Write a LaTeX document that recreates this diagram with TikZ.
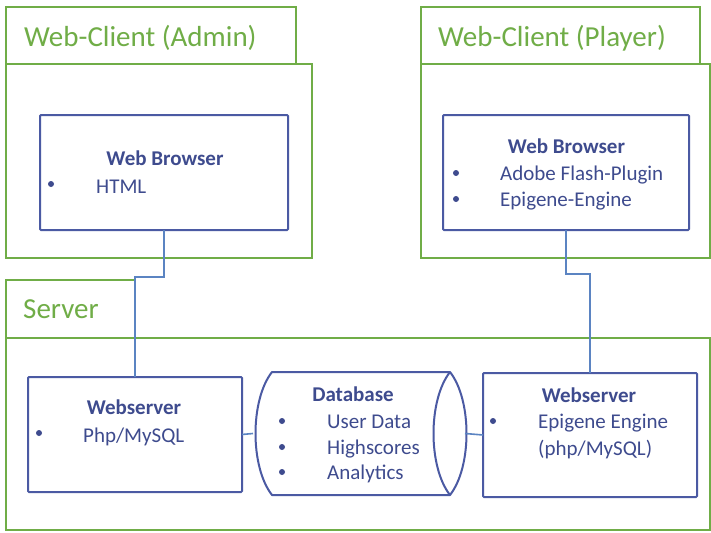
\documentclass[tikz,border=0pt]{standalone}
\usepackage{fontspec}
\setmainfont{Carlito}
\definecolor{pkggreen}{HTML}{70AD47}
\definecolor{boxblue}{HTML}{4B5AA3}
\definecolor{txtblue}{HTML}{3E4B8E}
\definecolor{linkblue}{HTML}{5B84C2}
\tikzset{
  pkg/.style={draw=pkggreen, line width=2pt, fill=white, inner sep=0pt, outer sep=0pt},
  comp/.style={draw=boxblue, line width=2pt, fill=white, inner sep=0pt, outer sep=0pt, rounded corners=1pt},
  hidden/.style={inner sep=0pt, outer sep=0pt},
  pkgtitle/.style={anchor=base west, inner sep=0pt, text=pkggreen, font=\fontsize{29}{35}\selectfont},
  head/.style={anchor=base, inner sep=0pt, text=txtblue, font=\fontsize{21}{25}\selectfont\bfseries},
  item/.style={anchor=base west, inner sep=0pt, text=txtblue, font=\fontsize{21}{25}\selectfont},
  dot/.style={circle, fill=txtblue, inner sep=0pt, minimum size=6pt},
  link/.style={draw=linkblue, line width=1.6pt},
}
\begin{document}
\begin{tikzpicture}[x=1pt,y=-1pt]
\useasboundingbox (0,0) rectangle (711,532);

% ---- Web-Client (Admin) package
\node[pkg, minimum width=306pt, minimum height=194pt] (adminbody) at (159,161) {};
\node[pkg, minimum width=290pt, minimum height=57pt] (admintab) at (151,35.5) {};
\node[pkgtitle] (admintitle) at (24,47) {Web-Client (Admin)};
\node[comp, minimum width=248pt, minimum height=115pt] (abrowser) at (164,172.5) {};
\node[head] (abhead) at (165,165) {Web Browser};
\node[dot] (abdot1) at (51,184) {};
\node[item] (abitem1) at (96,193) {HTML};

% ---- Web-Client (Player) package
\node[pkg, minimum width=289pt, minimum height=194pt] (playerbody) at (565.5,161) {};
\node[pkg, minimum width=279pt, minimum height=57pt] (playertab) at (560.5,35.5) {};
\node[pkgtitle] (playertitle) at (438,47) {Web-Client (Player)};
\node[comp, minimum width=246pt, minimum height=115pt] (pbrowser) at (566,172.5) {};
\node[head] (pbhead) at (566.5,153) {Web Browser};
\node[dot] (pbdot1) at (456,173) {};
\node[item] (pbitem1) at (500,180) {Adobe Flash-Plugin};
\node[dot] (pbdot2) at (456,199) {};
\node[item] (pbitem2) at (500,206) {Epigene-Engine};

% ---- Server package
\node[pkg, minimum width=704pt, minimum height=192pt] (serverbody) at (358,434) {};
\node[pkg, minimum width=129pt, minimum height=58pt] (servertab) at (70.5,309) {};
\node[pkgtitle] (servertitle) at (23,318) {Server};

% left webserver
\node[comp, minimum width=214pt, minimum height=115pt] (lweb) at (135,434.5) {};
\node[head] (lwhead) at (134,414) {Webserver};
\node[dot] (lwdot1) at (39,433) {};
\node[item] (lwitem1) at (83,442) {Php/MySQL};

% database (horizontal cylinder)
\node[hidden, minimum width=212pt, minimum height=123pt] (db) at (359,433.5) {};
\draw[boxblue, line width=2pt, fill=white, line join=round]
  (272,372) -- (450,372)
  .. controls (472,400) and (472,467) .. (450,495)
  -- (272,495)
  .. controls (250,467) and (250,400) .. (272,372) -- cycle;
\draw[boxblue, line width=2pt]
  (450,372) .. controls (428,400) and (428,467) .. (450,495);
\node[head] (dbhead) at (353,401) {Database};
\node[dot] (dbdot1) at (282,421) {};
\node[item] (dbitem1) at (327,428) {User Data};
\node[dot] (dbdot2) at (282,447) {};
\node[item] (dbitem2) at (327,454) {Highscores};
\node[dot] (dbdot3) at (282,472) {};
\node[item] (dbitem3) at (327,479) {Analytics};

% right webserver
\node[comp, minimum width=214pt, minimum height=124pt] (rweb) at (590,435) {};
\node[head] (rwhead) at (589,402) {Webserver};
\node[dot] (rwdot1) at (493,421) {};
\node[item] (rwitem1) at (538,428) {Epigene Engine};
\node[item] (rwitem2) at (538,455) {(php/MySQL)};

% ---- connectors
\draw[link] (abrowser.south) -- ++(0,47) -| (lweb.north);
\draw[link] (pbrowser.south) -- ++(0,44) -| (rweb.north);
\draw[link] (lweb.east) -- (db.west);
\draw[link] (db.east) -- (rweb.west);
\end{tikzpicture}
\end{document}
